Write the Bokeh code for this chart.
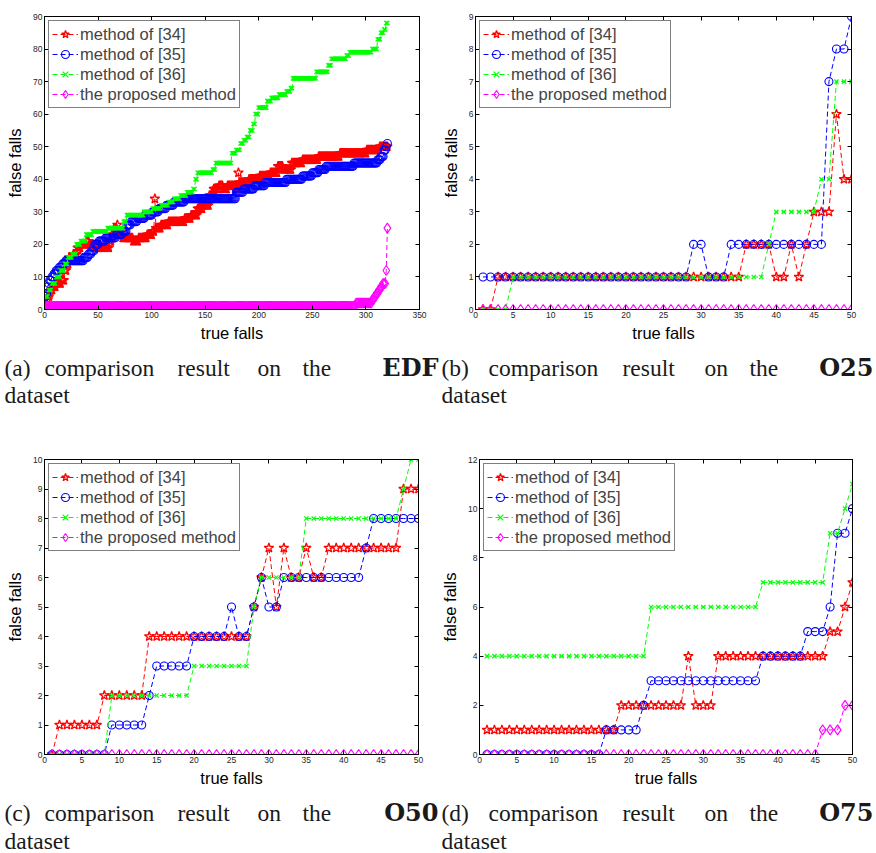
import numpy as np
from bokeh.plotting import figure
from bokeh.models import Range1d, FixedTicker, LinearAxis, CustomJSTickFormatter
from bokeh.layouts import column, row
from bokeh.embed import file_html
from bokeh.resources import INLINE
from bokeh.core.properties import value

# ---------------- data ----------------
labels = ["method of [34]", "method of [35]", "method of [36]", "the proposed method"]

# (a) EDF dataset: run-length description (first true-falls index of each run, value of run)
edf_n = 320
edf34_start = [1, 2, 3, 4, 5, 6, 8, 11, 16, 19, 21, 23, 27, 31, 34, 39, 42, 46, 61, 63,
               65, 68, 69, 73, 83, 88, 96, 101, 103, 104, 109, 116, 131, 137, 143, 148, 154, 158, 163, 167,
               171, 179, 181, 182, 191, 201, 211, 218, 223, 231, 241, 256, 276, 301, 313]
edf34_val = [1, 2, 3, 4, 5, 6, 7, 8, 9, 12, 14, 16, 17, 19, 20, 21, 20, 19, 21, 23,
             25, 26, 24, 22, 21, 22, 23, 24, 34, 25, 26, 27, 28, 29, 31, 32, 35, 37, 38, 37,
             38, 37, 42, 39, 40, 41, 42, 44, 43, 45, 46, 47, 48, 49, 50]
edf35_start = [1, 2, 3, 4, 5, 7, 9, 11, 14, 17, 20, 37, 41, 44, 47, 51, 57, 67, 73, 77,
               81, 87, 94, 101, 107, 114, 121, 131, 179, 186, 196, 206, 226, 241, 250, 256, 263, 289, 311, 314,
               317, 319, 320]
edf35_val = [4, 5, 7, 8, 9, 10, 11, 12, 13, 14, 15, 16, 17, 18, 20, 21, 22, 23, 24, 26,
             27, 28, 29, 30, 31, 32, 33, 34, 36, 37, 38, 39, 40, 41, 42, 43, 44, 45, 46, 47,
             49, 50, 51]
edf36_start = [1, 4, 7, 11, 15, 19, 22, 26, 30, 34, 39, 45, 59, 74, 77, 93, 101, 109, 116, 121,
               127, 133, 139, 141, 143, 157, 160, 175, 179, 183, 186, 189, 192, 195, 197, 200, 208, 212, 219, 226,
               230, 232, 254, 265, 268, 282, 285, 306, 311, 314, 317, 319]
edf36_val = [4, 6, 8, 10, 12, 14, 16, 17, 20, 21, 23, 24, 25, 27, 29, 30, 31, 32, 33, 34,
             35, 36, 37, 40, 42, 43, 45, 48, 49, 51, 52, 53, 55, 57, 60, 62, 64, 65, 66, 67,
             68, 71, 73, 75, 77, 78, 79, 80, 83, 85, 86, 88]
edfprop_start = [1, 2, 291, 306, 308, 310, 312, 314, 316, 319, 320]
edfprop_val = [0, 1, 2, 3, 4, 5, 6, 7, 8, 12, 25]

# (b) O25 dataset, true falls 1..50
o25_34 = [0, 0, 1, 1, 1, 1, 1, 1, 1, 1, 1, 1, 1, 1, 1, 1, 1, 1, 1, 1,
          1, 1, 1, 1, 1, 1, 1, 1, 1, 1, 1, 1, 1, 1, 1, 2, 2, 2, 2, 1,
          1, 2, 1, 2, 3, 3, 3, 6, 4, 4]
o25_35 = [1, 1, 1, 1, 1, 1, 1, 1, 1, 1, 1, 1, 1, 1, 1, 1, 1, 1, 1, 1,
          1, 1, 1, 1, 1, 1, 1, 1, 2, 2, 1, 1, 1, 2, 2, 2, 2, 2, 2, 2,
          2, 2, 2, 2, 2, 2, 7, 8, 8, 9]
o25_36 = [0, 0, 0, 0, 1, 1, 1, 1, 1, 1, 1, 1, 1, 1, 1, 1, 1, 1, 1, 1,
          1, 1, 1, 1, 1, 1, 1, 1, 1, 1, 1, 1, 1, 1, 1, 1, 1, 1, 2, 3,
          3, 3, 3, 3, 3, 4, 4, 7, 7, 7]
o25_prop = [0] * 50

# (c) O50 dataset
o50_34 = [0, 1, 1, 1, 1, 1, 1, 2, 2, 2, 2, 2, 2, 4, 4, 4, 4, 4, 4, 4,
          4, 4, 4, 4, 4, 4, 4, 5, 6, 7, 5, 7, 6, 6, 7, 6, 6, 7, 7, 7,
          7, 7, 7, 7, 7, 7, 7, 9, 9, 9]
o50_35 = [0, 0, 0, 0, 0, 0, 0, 0, 1, 1, 1, 1, 1, 2, 3, 3, 3, 3, 3, 4,
          4, 4, 4, 4, 5, 4, 4, 5, 6, 5, 5, 6, 6, 6, 6, 6, 6, 6, 6, 6,
          6, 6, 7, 8, 8, 8, 8, 8, 8, 8]
o50_36 = [0, 0, 0, 0, 0, 0, 0, 0, 2, 2, 2, 2, 2, 2, 2, 2, 2, 2, 2, 3,
          3, 3, 3, 3, 3, 3, 3, 5, 6, 6, 6, 6, 6, 6, 8, 8, 8, 8, 8, 8,
          8, 8, 8, 8, 8, 8, 8, 9, 10, 10]
o50_prop = [0] * 50

# (d) O75 dataset
o75_34 = [1, 1, 1, 1, 1, 1, 1, 1, 1, 1, 1, 1, 1, 1, 1, 1, 1, 1, 2, 2,
          2, 2, 2, 2, 2, 2, 2, 4, 2, 2, 2, 4, 4, 4, 4, 4, 4, 4, 4, 4,
          4, 4, 4, 4, 4, 4, 5, 5, 6, 7]
o75_35 = [0, 0, 0, 0, 0, 0, 0, 0, 0, 0, 0, 0, 0, 0, 0, 0, 1, 1, 1, 1,
          1, 2, 3, 3, 3, 3, 3, 3, 3, 3, 3, 3, 3, 3, 3, 3, 3, 4, 4, 4,
          4, 4, 4, 5, 5, 5, 6, 9, 9, 10]
o75_36 = [4, 4, 4, 4, 4, 4, 4, 4, 4, 4, 4, 4, 4, 4, 4, 4, 4, 4, 4, 4,
          4, 4, 6, 6, 6, 6, 6, 6, 6, 6, 6, 6, 6, 6, 6, 6, 6, 7, 7, 7,
          7, 7, 7, 7, 7, 7, 9, 9, 10, 11]
o75_prop = [0, 0, 0, 0, 0, 0, 0, 0, 0, 0, 0, 0, 0, 0, 0, 0, 0, 0, 0, 0,
            0, 0, 0, 0, 0, 0, 0, 0, 0, 0, 0, 0, 0, 0, 0, 0, 0, 0, 0, 0,
            0, 0, 0, 0, 0, 1, 1, 1, 2, 2]

edf_xticks = [0, 50, 100, 150, 200, 250, 300, 350]
edf_yticks = [0, 10, 20, 30, 40, 50, 60, 70, 80, 90]
o_xticks = [0, 5, 10, 15, 20, 25, 30, 35, 40, 45, 50]
o25_yticks = [0, 1, 2, 3, 4, 5, 6, 7, 8, 9]
o50_yticks = [0, 1, 2, 3, 4, 5, 6, 7, 8, 9, 10]
o75_yticks = [0, 2, 4, 6, 8, 10, 12]

caption_top = [["(a)", "comparison", "result", "on", "the", "EDF"],
               ["(b)", "comparison", "result", "on", "the", "O25"]]
caption_bottom = [["(c)", "comparison", "result", "on", "the", "O50"],
                  ["(d)", "comparison", "result", "on", "the", "O75"]]
caption_second = "dataset"


def expand(starts, vals, n):
    counts = np.diff(np.append(np.asarray(starts), n + 1))
    return np.repeat(np.asarray(vals), counts)


# ---------------- styling ----------------
colors = ["#ff0000", "#0000ff", "#00ff00", "#ff00ff"]
markers = ["star", "circle", "x", "diamond"]
msizes = [10, 8, 6, 10]
mwidths = [1.3, 1.1, 1.2, 1.1]
SANS = "Liberation Sans"
SERIF = "Liberation Serif"
SERIF_BOLD = "DejaVu Serif"


def panel(x, ys, xr, yr, xt, yt, width, height, bl, br, bt, bb):
    p = figure(width=width, height=height, x_range=Range1d(*xr), y_range=Range1d(*yr),
               output_backend="svg", toolbar_location=None,
               min_border_left=bl, min_border_right=br, min_border_top=bt, min_border_bottom=bb)
    p.background_fill_color = "white"
    p.border_fill_color = "white"
    p.grid.visible = False
    p.outline_line_color = "black"
    p.outline_line_width = 1
    for y, c, m, s, lw, lab in zip(ys, colors, markers, msizes, mwidths, labels):
        p.line(x, y, line_color=c, line_dash="5 3", line_width=1, legend_label=lab)
        p.scatter(x, y, marker=m, size=s, line_color=c, fill_color=None, line_width=lw,
                  legend_label=lab)
    for ax, ticks in ((p.xaxis[0], xt), (p.yaxis[0], yt)):
        ax.ticker = FixedTicker(ticks=ticks)
        ax.major_tick_in = 4
        ax.major_tick_out = 0
        ax.minor_tick_in = 0
        ax.minor_tick_out = 0
        ax.major_label_standoff = 2
        ax.major_label_text_font = SANS
        ax.major_label_text_font_size = "8.5px"
        ax.major_label_text_color = "#262626"
        ax.axis_line_color = "black"
        ax.axis_label_text_font = SANS
        ax.axis_label_text_font_size = "16.5px"
        ax.axis_label_text_font_style = "normal"
        ax.axis_label_text_color = "black"
    p.xaxis.axis_label = "true falls"
    p.yaxis.axis_label = "false falls"
    p.xaxis.axis_label_standoff = 3
    p.yaxis.axis_label_standoff = 6
    for loc, ticks in (("above", xt), ("right", yt)):
        a = LinearAxis(ticker=FixedTicker(ticks=ticks),
                       formatter=CustomJSTickFormatter(code="return ''"),
                       major_tick_in=4, major_tick_out=0, minor_tick_in=0, minor_tick_out=0,
                       major_label_standoff=0, major_label_text_font_size="1px",
                       axis_line_color="black")
        p.add_layout(a, loc)
    lg = p.legend[0]
    lg.location = "top_left"
    lg.margin = 4
    lg.padding = 3
    lg.spacing = 0
    lg.label_height = 20
    lg.glyph_height = 20
    lg.glyph_width = 26
    lg.label_standoff = 2
    lg.label_text_font = SANS
    lg.label_text_font_size = "16.5px"
    lg.border_line_color = "black"
    lg.border_line_width = 1.2
    lg.background_fill_color = "white"
    lg.background_fill_alpha = 1
    return p


def caption(words_pairs, xs_pairs, right_edges, height, y1, y2):
    c = figure(width=876, height=height, x_range=Range1d(0, 876), y_range=Range1d(height, 0),
               output_backend="svg", toolbar_location=None, x_axis_type=None, y_axis_type=None,
               min_border=0)
    c.outline_line_color = None
    c.grid.visible = False
    c.background_fill_color = "white"
    c.border_fill_color = "white"
    nx, ny, nt, bx, by, bt = [], [], [], [], [], []
    for words, xs, xr in zip(words_pairs, xs_pairs, right_edges):
        for w, xx in zip(words[:-1], xs):
            nx.append(xx); ny.append(y1); nt.append(w)
        bx.append(xr); by.append(y1); bt.append(words[-1])
        nx.append(xs[0]); ny.append(y2); nt.append(caption_second)
    c.text(x=nx, y=ny, text=nt, text_font=value(SERIF), text_font_size="23.5px",
           text_baseline="alphabetic", text_color="#1a1a1a")
    c.text(x=bx, y=by, text=bt, text_font=value(SERIF_BOLD), text_font_size="24px",
           text_font_style="bold", text_align="right", text_baseline="alphabetic",
           text_color="#1a1a1a")
    return c


xa = np.arange(1, edf_n + 1)
ya = [expand(edf34_start, edf34_val, edf_n), expand(edf35_start, edf35_val, edf_n),
      expand(edf36_start, edf36_val, edf_n), expand(edfprop_start, edfprop_val, edf_n)]
xo = np.arange(1, 51)

pa = panel(xa, ya, (0, 350), (0, 90), edf_xticks, edf_yticks, 438, 346, 44, 19, 16, 34)
pb = panel(xo, [o25_34, o25_35, o25_36, o25_prop], (0, 50), (0, 9), o_xticks, o25_yticks,
           438, 346, 35, 25, 13, 37)
pc = panel(xo, [o50_34, o50_35, o50_36, o50_prop], (0, 50), (0, 10), o_xticks, o50_yticks,
           438, 339, 44, 20, 9, 34)
pd = panel(xo, [o75_34, o75_35, o75_36, o75_prop], (0, 50), (0, 12), o_xticks, o75_yticks,
           438, 339, 39, 24, 9, 34)

word_x_left = [4, 44, 177, 257, 302]
word_x_right = [441, 488, 622, 704, 749]
bold_right = [438, 873]
cap1 = caption(caption_top, [word_x_left, word_x_right], bold_right, 104, 21, 48)
cap2 = caption(caption_bottom, [word_x_left, word_x_right], bold_right, 64, 23, 51)

layout = column(row(pa, pb), cap1, row(pc, pd), cap2)
open("out.html", "w").write(file_html(layout, INLINE))
